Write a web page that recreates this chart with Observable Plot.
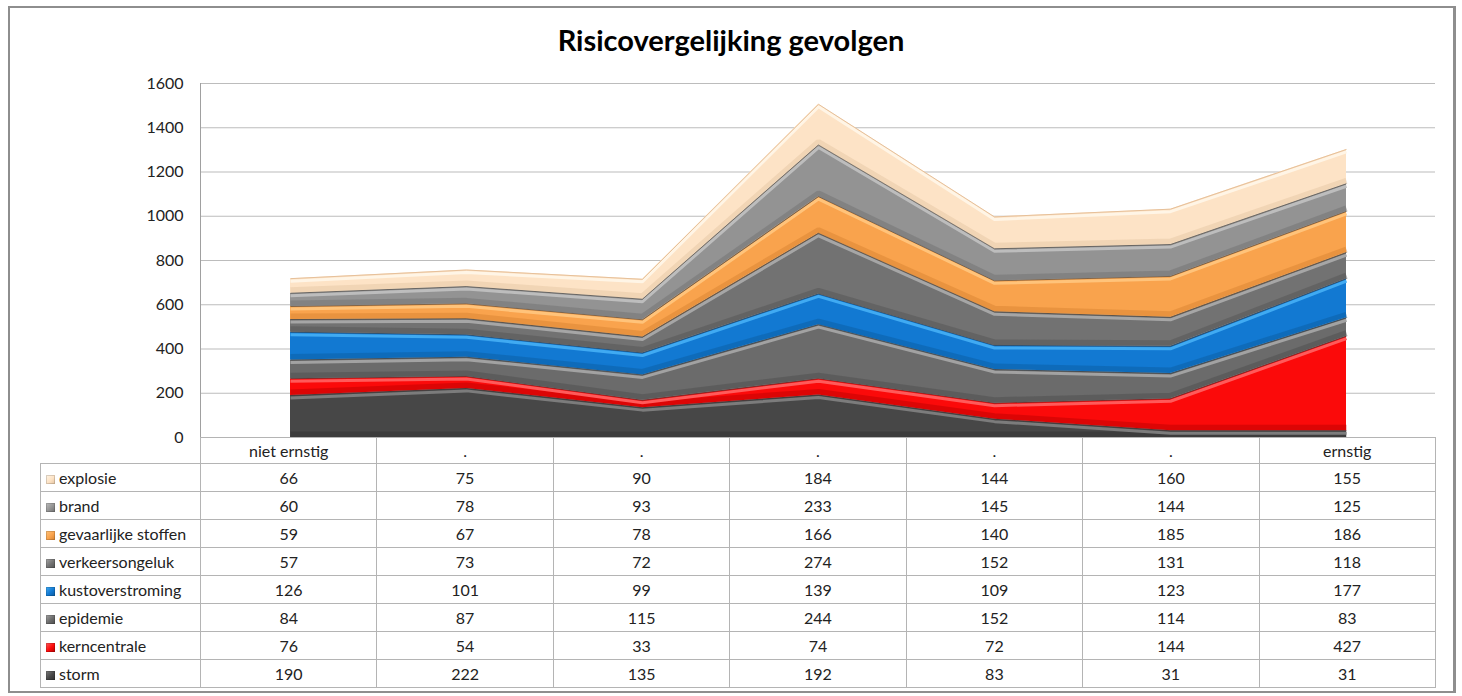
<!DOCTYPE html>
<html>
<head>
<meta charset="utf-8">
<script src="https://cdn.jsdelivr.net/npm/d3@7"></script>
<script src="https://cdn.jsdelivr.net/npm/@observablehq/plot@0.6"></script>
<style>
  html, body { margin: 0; padding: 0; background: #fff; }
  body { width: 1462px; height: 696px; position: relative; overflow: hidden; font-family: Lato, "Open Sans", sans-serif; }
  #frame { position: absolute; left: 8px; top: 6px; width: 1448px; height: 687px; border: 2px solid #8e8e8e; border-right-width: 3px; box-sizing: border-box; }
  #title { position: absolute; left: 0; width: 1462px; top: 22px; text-align: center; font: bold 29px Lato, sans-serif; color: #000; }
  #chart { position: absolute; left: 0; top: 0; }
  #tbl { position: absolute; left: 40px; top: 437px; border-collapse: collapse; table-layout: fixed; font: 16px Lato, sans-serif; color: #222; }
  #tbl td { border: 1px solid #b4b4b4; text-align: center; padding: 0; height: 27px; white-space: nowrap; overflow: hidden; }
  #tbl tr.hdr td { height: 25px; }
  #tbl tr.hdr td.blank { border-top: none; border-left: none; border-bottom: 1px solid #b4b4b4; }
  #tbl td.lab { text-align: left; padding-left: 5px; }
  .sw { display: inline-block; width: 9px; height: 9px; margin-right: 4px; box-shadow: inset 0 0 0 1px rgba(0,0,0,0.15); }
</style>
</head>
<body>
<div id="frame"></div>
<div id="title">Risicovergelijking gevolgen</div>
<div id="chart"></div>
<table id="tbl"></table>
<script>
// ---- data ----
const categories = ["niet ernstig", ".", ".", ".", ".", ".", "ernstig"];
const seriesNames = ["storm", "kerncentrale", "epidemie", "kustoverstroming", "verkeersongeluk", "gevaarlijke stoffen", "brand", "explosie"];
const storm = [190, 222, 135, 192, 83, 31, 31];
const kerncentrale = [76, 54, 33, 74, 72, 144, 427];
const epidemie = [84, 87, 115, 244, 152, 114, 83];
const kustoverstroming = [126, 101, 99, 139, 109, 123, 177];
const verkeersongeluk = [57, 73, 72, 274, 152, 131, 118];
const gevaarlijkeStoffen = [59, 67, 78, 166, 140, 185, 186];
const brand = [60, 78, 93, 233, 145, 144, 125];
const explosie = [66, 75, 90, 184, 144, 160, 155];
const yTicks = [0, 200, 400, 600, 800, 1000, 1200, 1400, 1600];

const baseColors = ["#474747", "#fb0a0a", "#6b6b6b", "#1279d2", "#727272", "#f9a34d", "#939393", "#fde3c6"];
const lightColors = ["#7c7c7c", "#ff5a5a", "#a2a2a2", "#40aaf2", "#a6a6a6", "#ffc37a", "#bdbdbd", "#fff5e6"];
const darkColors = ["#2e2e2e", "#b50000", "#4c4c4c", "#0b5a9e", "#525252", "#d4812f", "#6e6e6e", "#e3c39f"];

const seriesValues = [storm, kerncentrale, epidemie, kustoverstroming, verkeersongeluk, gevaarlijkeStoffen, brand, explosie];

// long table built from the arrays, with running totals (stack order storm -> explosie)
const data = [];
const running = categories.map(() => 0);
seriesNames.forEach((s, si) => {
  seriesValues[si].forEach((v, i) => {
    data.push({series: s, si, i, value: v, bottom: running[i], top: running[i] + v});
    running[i] += v;
  });
});

const xDomain = categories.map((_, i) => i);
const bySeries = s => data.filter(d => d.series === s);
const lineStyle = {strokeLinecap: "butt", strokeLinejoin: "miter"};

const plot = Plot.plot({
  width: 1462,
  height: 452,
  marginLeft: 200,
  marginRight: 27,
  marginTop: 83,
  marginBottom: 15,
  style: {fontFamily: "Lato, sans-serif", fontSize: "16px", color: "#222", background: "transparent"},
  x: {type: "point", domain: xDomain, padding: 0.5, axis: null},
  y: {domain: [0, 1600], ticks: yTicks, label: null},
  color: {domain: seriesNames, range: baseColors},
  marks: [
    Plot.gridY(yTicks, {stroke: "#bcbcbc", strokeOpacity: 1, strokeWidth: 1.2}),
    Plot.axisY(yTicks, {tickSize: 0, tickPadding: 17, fontSize: 16, fill: "#222", tickFormat: d => String(d), label: null}),
    Plot.areaY(data, {x: "i", y1: "bottom", y2: "top", z: "series", fill: "series", curve: "linear"}),
    // bottom shading of each band
    ...seriesNames.map((s, si) =>
      Plot.lineY(bySeries(s), {x: "i", y: "bottom", stroke: darkColors[si], strokeWidth: 6, dy: -3, strokeOpacity: 0.45, ...lineStyle})
    ),
    // top highlight of each band
    ...seriesNames.map((s, si) =>
      Plot.lineY(bySeries(s), {x: "i", y: "top", stroke: lightColors[si], strokeWidth: 3, dy: 2.5, ...lineStyle})
    ),
    // thin separator on top edge
    ...seriesNames.map((s, si) =>
      Plot.lineY(bySeries(s), {x: "i", y: "top", stroke: si === 7 ? "#e6c09a" : "#3a3a3a", strokeWidth: 1, strokeOpacity: si === 7 ? 1 : 0.55, ...lineStyle})
    ),
    Plot.frame({anchor: "left", stroke: "#a0a0a0"})
  ]
});
document.getElementById("chart").appendChild(plot);

// ---- data table below the chart ----
const tbl = document.getElementById("tbl");
const colW = (1435 - 200) / categories.length;
const cg = document.createElement("colgroup");
const c0 = document.createElement("col"); c0.style.width = "160px"; cg.appendChild(c0);
categories.forEach(() => { const c = document.createElement("col"); c.style.width = colW + "px"; cg.appendChild(c); });
tbl.appendChild(cg);
tbl.style.width = (160 + colW * categories.length) + "px";

const hdr = document.createElement("tr"); hdr.className = "hdr";
const blank = document.createElement("td"); blank.className = "blank"; hdr.appendChild(blank);
categories.forEach(c => { const td = document.createElement("td"); td.textContent = c; hdr.appendChild(td); });
tbl.appendChild(hdr);

for (let si = seriesNames.length - 1; si >= 0; si--) {
  const tr = document.createElement("tr");
  const lab = document.createElement("td"); lab.className = "lab";
  const sw = document.createElement("span"); sw.className = "sw";
  sw.style.background = `linear-gradient(135deg, ${lightColors[si]}, ${baseColors[si]} 55%, ${darkColors[si]})`;
  lab.appendChild(sw);
  lab.appendChild(document.createTextNode(seriesNames[si]));
  tr.appendChild(lab);
  seriesValues[si].forEach(v => { const td = document.createElement("td"); td.textContent = v; tr.appendChild(td); });
  tbl.appendChild(tr);
}
</script>
</body>
</html>
